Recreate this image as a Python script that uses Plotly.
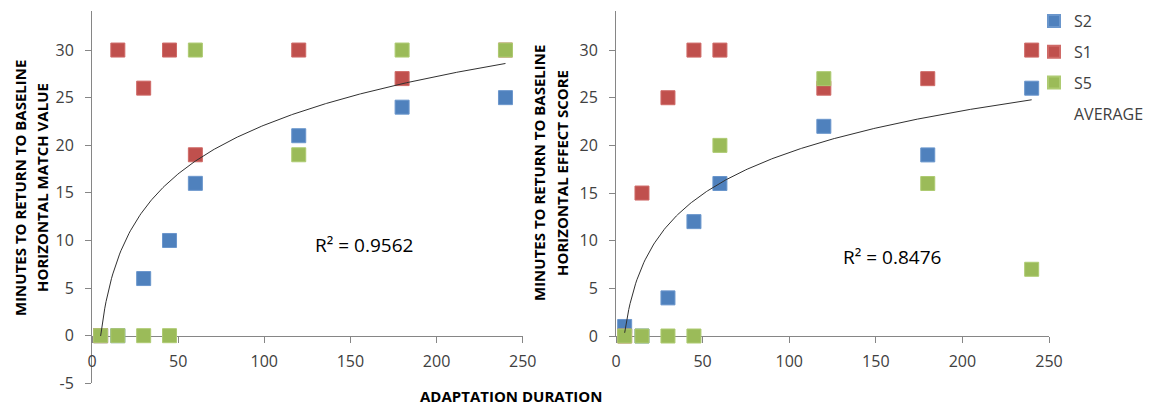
import numpy as np
import plotly.graph_objects as go

# ---------------- data ----------------
durations = [5, 15, 30, 45, 60, 120, 180, 240]

# Horizontal match value (left chart)
match_s2 = [0, 0, 6, 10, 16, 21, 24, 25]
match_s1 = [0, 30, 26, 30, 19, 30, 27, 30]
match_s5 = [0, 0, 0, 0, 30, 19, 30, 30]

# Horizontal effect score (right chart)
effect_s2 = [1, 0, 4, 12, 16, 22, 19, 26]
effect_s1 = [0, 15, 25, 30, 30, 26, 27, 30]
effect_s5 = [0, 0, 0, 0, 20, 27, 16, 7]

series_names = ["S2", "S1", "S5"]
series_colors = ["#4F81BD", "#C0504D", "#9BBB59"]
series_edges = ["#6A96CC", "#CF6A67", "#AECB72"]

r2_labels = ["R² = 0.9562", "R² = 0.8476"]
x_ticks = [0, 50, 100, 150, 200, 250]
y_ticks_left = [-5, 0, 5, 10, 15, 20, 25, 30]
y_ticks_right = [0, 5, 10, 15, 20, 25, 30]

# ---------------- figure ----------------
PAGE_W, PAGE_H = 1155, 406
OFF = 8  # default page body margin
W, H = PAGE_W - OFF, PAGE_H - OFF
FONT = "Open Sans"
TICKCOL = "#404040"
AXCOL = "#868686"


def px(x):
    return (x - OFF) / W


def py(y):
    return 1 - (y - OFF) / H


fig = go.Figure()


def add_panel(xa, ya, values, show_legend):
    for name, col, edge, vals in zip(series_names, series_colors, series_edges, values):
        fig.add_trace(go.Scatter(
            x=durations, y=vals, mode="markers", name=name,
            legendgroup=name, showlegend=show_legend,
            marker=dict(symbol="square", size=14, color=col,
                        line=dict(width=1, color=edge)),
            cliponaxis=False, xaxis=xa, yaxis=ya))
    avg = np.mean(np.array(values, dtype=float), axis=0)
    fig.add_trace(go.Scatter(
        x=durations, y=avg, mode="markers", name="AVERAGE",
        legendgroup="AVERAGE", showlegend=show_legend,
        marker=dict(symbol="square", size=14, color="rgba(0,0,0,0)"),
        cliponaxis=False, xaxis=xa, yaxis=ya))
    # logarithmic trendline of the average series
    lx = np.log(np.array(durations, dtype=float))
    a, b = np.polyfit(lx, avg, 1)
    xs = np.linspace(min(durations), max(durations), 300)
    fig.add_trace(go.Scatter(
        x=xs, y=a * np.log(xs) + b, mode="lines", showlegend=False,
        line=dict(color="#303030", width=1), hoverinfo="skip",
        cliponaxis=False, xaxis=xa, yaxis=ya))


add_panel("x", "y", [match_s2, match_s1, match_s5], True)
add_panel("x2", "y2", [effect_s2, effect_s1, effect_s5], False)

axis_common = dict(showline=True, linecolor=AXCOL, linewidth=1,
                   ticks="outside", ticklen=6, tickcolor=AXCOL, tickwidth=1,
                   showgrid=False, zeroline=False, layer="below traces",
                   automargin=False,
                   tickfont=dict(family=FONT, size=16, color=TICKCOL))

fig.update_layout(
    width=W, height=H,
    margin=dict(l=0, r=0, t=0, b=0, autoexpand=False),
    paper_bgcolor="white", plot_bgcolor="white",
    font=dict(family=FONT, color=TICKCOL),
    xaxis=dict(domain=[px(92), px(522.7)], range=[0, 250], tickvals=x_ticks,
               anchor="free", position=py(335.7), ticklabelstandoff=5, **axis_common),
    yaxis=dict(domain=[py(383.3), py(11)], range=[-5, 34.1], tickvals=y_ticks_left,
               ticktext=[str(v) for v in y_ticks_left],
               anchor="x", ticklabelstandoff=8, **axis_common),
    xaxis2=dict(domain=[px(616), px(1049)], range=[0, 250], tickvals=x_ticks,
                anchor="y2", ticklabelstandoff=5, **axis_common),
    yaxis2=dict(domain=[py(336), py(11)], range=[0, 34.1], tickvals=y_ticks_right,
                anchor="x2", ticklabelstandoff=8, **axis_common),
    legend=dict(x=px(1034), y=py(4), xanchor="left", yanchor="top",
                font=dict(family=FONT, size=16, color=TICKCOL),
                tracegroupgap=7, itemsizing="constant",
                bgcolor="rgba(0,0,0,0)"),
    showlegend=True,
)

title_font = dict(family=FONT, size=15, color="#000000")
annotations = [
    dict(text="<b>MINUTES TO RETURN TO BASELINE</b>", x=px(20), y=py(188), textangle=-90),
    dict(text="<b>HORIZONTAL MATCH VALUE</b>", x=px(42), y=py(188), textangle=-90),
    dict(text="<b>MINUTES TO RETURN TO BASELINE</b>", x=px(539), y=py(173), textangle=-90),
    dict(text="<b>HORIZONTAL EFFECT SCORE</b>", x=px(562), y=py(173), textangle=-90),
    dict(text="<b>ADAPTATION DURATION</b>", x=px(510.5), y=py(396), textangle=0),
]
for ann in annotations:
    fig.add_annotation(xref="paper", yref="paper", showarrow=False,
                       xanchor="center", yanchor="middle", font=title_font, **ann)

r2_font = dict(family=FONT, size=19, color="#000000")
fig.add_annotation(text=r2_labels[0], xref="paper", yref="paper", x=px(364), y=py(245),
                   showarrow=False, xanchor="center", yanchor="middle", font=r2_font)
fig.add_annotation(text=r2_labels[1], xref="paper", yref="paper", x=px(892), y=py(257),
                   showarrow=False, xanchor="center", yanchor="middle", font=r2_font)

fig.write_html("out.html")
